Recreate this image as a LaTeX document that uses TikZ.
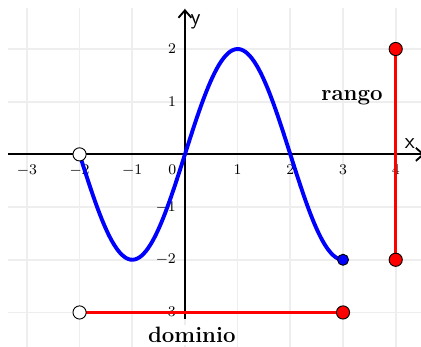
\documentclass[tikz,border=0pt]{standalone}
\usepackage{amsmath, amssymb}
\usetikzlibrary{arrows.meta}
\definecolor{gridGray}{RGB}{238, 238, 238}
\definecolor{curveBlue}{RGB}{0, 0, 255}
\definecolor{segRed}{RGB}{255, 0, 0}

\begin{document}
\begin{tikzpicture}[x=1cm, y=1cm,
    dot/.style={circle, draw=black, line width=0.5pt, inner sep=0pt, minimum size=0.25cm},
    ticklabel/.style={font=\footnotesize, inner sep=1pt},
    axislabel/.style={font=\sffamily\large, inner sep=0pt}]
  \useasboundingbox (-3.51,-3.65) rectangle (4.48,2.93);
  % grid and axes
  \draw[gridGray, line width=0.9pt] (-3.36,-3.65) grid (4.48,2.78);
  \draw[line width=1pt, -{Straight Barb[length=4pt, width=7pt]}] (-3.36,0) -- (4.55,0);
  \draw[line width=1pt, -{Straight Barb[length=4pt, width=7pt]}] (0,-3.12) -- (0,2.76);
  \node[axislabel] (ylab) at (0.2,2.52) {y};
  \node[axislabel] (xlab) at (4.27,0.2) {x};
  \foreach \x in {-3,-2,-1,1,2,3,4}
    \node[ticklabel] at (\x,-0.3) {$\x$};
  \node[ticklabel] at (-0.24,-0.3) {$0$};
  \foreach \y in {-3,-2,-1,1,2}
    \node[ticklabel, anchor=east] at (-0.13,\y) {$\y$};
  % the function
  \draw[curveBlue, line width=2.1pt, domain=-2:3, samples=120, smooth]
    plot (\x, {2*sin(90*\x)});
  % domain and range
  \coordinate (domL) at (-2,-3);
  \coordinate (domR) at (3,-3);
  \coordinate (ranB) at (4,-2);
  \coordinate (ranT) at (4,2);
  \draw[segRed, line width=1.6pt] (domL) -- (domR);
  \draw[segRed, line width=1.6pt] (ranB) -- (ranT);
  \node[dot, fill=white] (open1) at (-2,0) {};
  \node[dot, fill=curveBlue, minimum size=0.21cm] (endB) at (3,-2) {};
  \node[dot, fill=white] (open2) at (domL) {};
  \node[dot, fill=segRed] (dotR) at (domR) {};
  \node[dot, fill=segRed] (dotB) at (ranB) {};
  \node[dot, fill=segRed] (dotT) at (ranT) {};
  \node[font=\large\bfseries] (rango) at (3.17,1.07) {rango};
  \node[font=\large\bfseries, fill=white, inner sep=1pt] (dominio) at (0.13,-3.43) {dominio};
\end{tikzpicture}
\end{document}
